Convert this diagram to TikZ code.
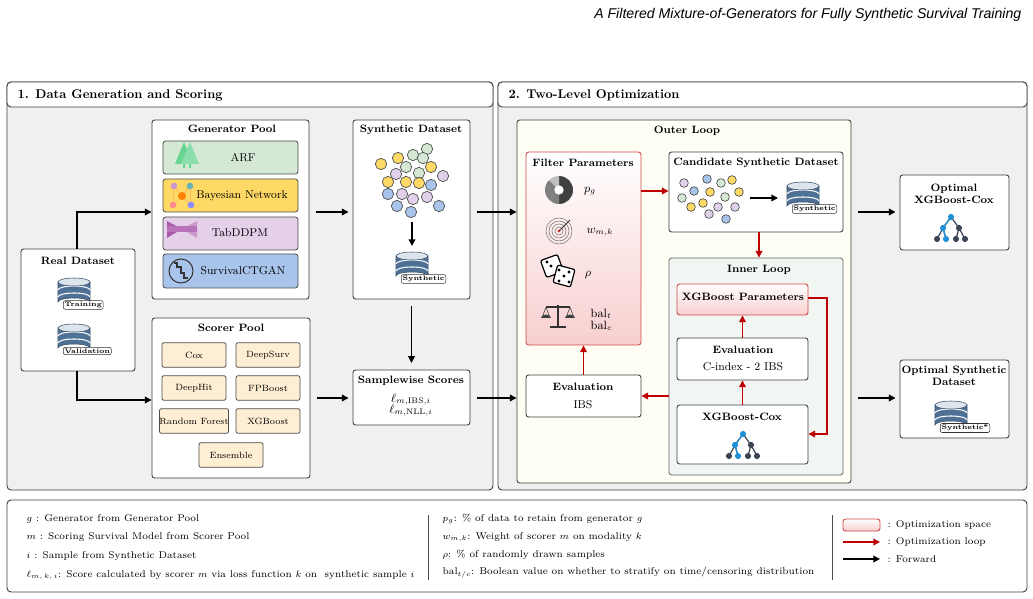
\documentclass[tikz,border=0pt]{standalone}
\usepackage{fontspec}
\newfontfamily\arialfont{Liberation Sans}
\usetikzlibrary{arrows.meta,fit,calc,shapes.geometric}
\definecolor{redc}{HTML}{C00000}
\definecolor{redb}{HTML}{D04848}
\definecolor{redf}{HTML}{F8CFCF}
\definecolor{dbblue}{HTML}{4F7196}
\definecolor{dbtop}{HTML}{DCE4EC}
\definecolor{treeb}{HTML}{1E90D6}
\definecolor{treed}{HTML}{3B4556}
\definecolor{dy}{HTML}{FFD966}
\definecolor{dg}{HTML}{D5E8D4}
\definecolor{dp}{HTML}{E1D0EA}
\definecolor{db}{HTML}{A9C4EB}
\tikzset{
 x=0.75pt,y=-0.75pt,
 box/.style={draw=black!75,fill=white,rounded corners=2pt,line width=0.7pt,inner sep=0pt},
 redbox/.style={draw=redb,rounded corners=2pt,line width=0.7pt,inner sep=0pt,top color=white,bottom color=redf},
 ttl/.style={font=\bfseries\fontsize{8}{9}\selectfont,align=center},
 itm/.style={font=\fontsize{8.5}{10}\selectfont},
 sc/.style={draw=black!70,fill=yellow!20!orange!15!white,rounded corners=1.5pt,line width=0.6pt,minimum width=48pt,minimum height=18.5pt,inner sep=0pt,font=\fontsize{6.8}{8}\selectfont},
 fw/.style={line width=1.1pt,-{Triangle[length=5pt,width=5pt]}},
 lp/.style={line width=1.1pt,draw=redc,-{Triangle[length=5pt,width=5pt]},color=redc},
 dot/.style={circle,draw=black!70,line width=0.5pt,inner sep=0pt,minimum size=#1},
 db/.pic={
  \fill[dbblue,draw=dbblue!70!black,line width=0.4pt] (-16,-10) -- (-16,10) arc[start angle=180,end angle=360,x radius=16,y radius=4] -- (16,-10) -- cycle;
  \draw[white,line width=0.8pt] (-16,-2) arc[start angle=180,end angle=360,x radius=16,y radius=4];
  \draw[white,line width=0.8pt] (-16,5) arc[start angle=180,end angle=360,x radius=16,y radius=4];
  \draw[fill=dbtop,draw=dbblue!70!black,line width=0.4pt] (0,-10) ellipse[x radius=16,y radius=4];
  \node[draw=black!80,fill=white,rounded corners=1.5pt,inner sep=1pt,anchor=west,font=\bfseries\fontsize{5}{6}\selectfont] at (-11,13) {#1};
 },
 tree/.pic={
  \draw[treed,line width=0.9pt] (0,-11)--(-8,0)--(-14,11) (-8,0)--(-5,11) (0,-11)--(8,0)--(5,11) (8,0)--(14,11);
  \draw[treeb,line width=0.9pt] (0,-11)--(-8,0)--(-5,11);
  \fill[treeb] (0,-11) circle (2.3pt) (-8,0) circle (2.3pt) (-5,11) circle (2.3pt);
  \fill[treed] (8,0) circle (2.3pt) (-14,11) circle (2.3pt) (5,11) circle (2.3pt) (14,11) circle (2.3pt);
 }
}
\begin{document}
\begin{tikzpicture}
\useasboundingbox (0,0) rectangle (1033,599);
% title
\node[anchor=east,font=\arialfont\itshape\fontsize{10.6}{12}\selectfont] (title) at (1026,15) {A Filtered Mixture-of-Generators for Fully Synthetic Survival Training};
% panels
\node[fit={(7,82)(493,490)},draw=black!75,fill=black!6,rounded corners=3pt,line width=0.7pt,inner sep=0pt] (p1) {};
\node[fit={(7,82)(493,107)},draw=black!75,fill=white,rounded corners=3pt,line width=0.7pt,inner sep=0pt] (h1) {};
\node[anchor=west,font=\bfseries\fontsize{9.5}{11}\selectfont] (h1t) at (13,95) {1. Data Generation and Scoring};
\node[fit={(498,82)(1027,490)},draw=black!75,fill=black!6,rounded corners=3pt,line width=0.7pt,inner sep=0pt] (p2) {};
\node[fit={(498,82)(1027,107)},draw=black!75,fill=white,rounded corners=3pt,line width=0.7pt,inner sep=0pt] (h2) {};
\node[anchor=west,font=\bfseries\fontsize{9.5}{11}\selectfont] (h2t) at (504,95) {2. Two-Level Optimization};

% Real dataset
\node[box,fit={(21,249)(135,371)}] (real) {};
\node[ttl] (realt) at (78,261) {Real Dataset};
\pic at (74,292) {db=Training};
\pic at (74,338) {db=Validation};

% Generator pool
\node[box,fit={(152,120)(309,299)}] (gen) {};
\node[ttl] (gent) at (232,129) {Generator Pool};
\node[fit={(163,141)(298,174)},draw=black!70,fill=dg,rounded corners=2pt,line width=0.6pt,inner sep=0pt] (arf) {};
\node[itm] at (243,158) {ARF};
\node[fit={(163,179)(298,212)},draw=black!70,fill=dy,rounded corners=2pt,line width=0.6pt,inner sep=0pt] (bn) {};
\node[itm] at (242,196) {Bayesian Network};
\node[fit={(163,217)(298,250)},draw=black!70,fill=dp!85!violet!60,rounded corners=2pt,line width=0.6pt,inner sep=0pt] (tab) {};
\node[itm] at (240,233) {TabDDPM};
\node[fit={(163,254)(298,288)},draw=black!70,fill=db,rounded corners=2pt,line width=0.6pt,inner sep=0pt] (ctg) {};
\node[itm] at (243,271) {SurvivalCTGAN};
% gen icons
\fill[green!45!teal!60] (175,164)--(184,142)--(193,164)--cycle;
\fill[green!45!teal!45] (181,164)--(190,142)--(199,164)--cycle;
\fill[green!45!teal!60] (183,164) rectangle (185,168) (189,164) rectangle (191,168);
\draw[orange!60,line width=0.5pt] (174,186)--(182,196)--(190,186) (173,205)--(182,196)--(191,205) (174,186)--(173,205) (190,186)--(191,205);
\fill[violet!40] (174,186) circle (2.5pt);
\fill[teal!60] (190,186) circle (2.5pt);
\fill[orange] (182,196) circle (3pt);
\fill[red!45] (173,205) circle (2.5pt);
\fill[blue!45] (191,205) circle (2.5pt);
\fill[violet!65] (167,221)--(182,229)--(167,238)--cycle;
\fill[violet!40] (197,221)--(182,229)--(197,238)--cycle;
\fill[violet!55] (167,226) rectangle (197,232);
\draw[black!80,line width=0.8pt] (181,271) circle (12);
\draw[black!80,line width=0.8pt] (174,263)--(177,263)--(177,267)--(181,267)--(181,273)--(184,273)--(184,278)--(188,278);

% Scorer pool
\node[box,fit={(152,318)(310,478)}] (scr) {};
\node[ttl] (scrt) at (231,328) {Scorer Pool};
\node[sc] (cox) at (194,355) {Cox};
\node[sc] (dsv) at (268,355) {DeepSurv};
\node[sc] (dh) at (194,388) {DeepHit};
\node[sc] (fpb) at (268,388) {FPBoost};
\node[sc] (rf) at (194,421) {Random Forest};
\node[sc] (xgb) at (268,421) {XGBoost};
\node[sc] (ens) at (231,455) {Ensemble};

% Synthetic dataset
\node[box,fit={(353,120)(470,299)}] (syn) {};
\node[ttl] (synt) at (411,130) {Synthetic Dataset};
\foreach \x/\y/\c in {381/164/dy,398/158/dy,413/155/dg,427/149/dg,423/158/dg,406/167/dg,396/174/dp,419/173/dg,431/167/dy,443/176/dp,388/182/dy,406/182/dy,419/183/dy,431/185/db,388/194/db,402/194/dp,413/199/dp,427/197/dp,397/206/db,411/212/db,439/206/db}
  \node[dot=8.5pt,fill=\c] at (\x,\y) {};
\coordinate (sa) at (412,222);
\coordinate (sb) at (412,246);
\draw[fw] (sa) -- (sb);
\pic at (412,266) {db=Synthetic};

% Samplewise
\node[box,fit={(353,370)(470,425)}] (sw) {};
\node[ttl] (swt) at (411,381) {Samplewise Scores};
\node[font=\fontsize{9}{10}\selectfont,align=center] (swl) at (411,405) {$\ell_{m,\mathrm{IBS},i}$\\[-2pt]$\ell_{m,\mathrm{NLL},i}$};

% left arrows
\draw[fw] (real.north -| 77,0) |- (gen.west |- 0,212);
\draw[fw] (real.south -| 77,0) |- (scr.west |- 0,400);
\draw[fw] ([xshift=5pt]gen.east |- 0,212) -- ([xshift=-3pt]syn.west |- 0,212);
\draw[fw] ([xshift=5pt]scr.east |- 0,398) -- ([xshift=-3pt]sw.west |- 0,398);
\draw[fw] ([yshift=-5pt]syn.south) -- ([yshift=5pt]sw.north);

% Outer loop
\node[fit={(517,120)(851,483)},draw=black!75,fill=yellow!4,rounded corners=2pt,line width=0.7pt,inner sep=0pt] (outer) {};
\node[ttl] (outt) at (687,131) {Outer Loop};
\draw[fw] ([xshift=5pt]syn.east |- 0,212) -- (outer.west |- 0,212);
\draw[fw] ([xshift=5pt]sw.east |- 0,398) -- (outer.west |- 0,398);

% Filter params
\node[redbox,fit={(526,152)(641,345)}] (fp) {};
\node[ttl] (fpt) at (583,163) {Filter Parameters};
% pie
\begin{scope}[shift={(559,190)},x=1pt,y=1pt]
\fill[black!75] (0,0) -- (90:10.5) arc[start angle=90,end angle=-90,radius=10.5pt] -- cycle;
\fill[black!50] (0,0) -- (-90:10.5) arc[start angle=-90,end angle=-225,radius=10.5pt] -- cycle;
\fill[black!25] (0,0) -- (135:10.5) arc[start angle=135,end angle=90,radius=10.5pt] -- cycle;
\fill[white] (0,0) circle (3.5pt);
\end{scope}
\node[font=\fontsize{9}{10}\selectfont] at (590,191) {$p_g$};
% target
\foreach \r in {13,10,7,4} \draw[black!55,line width=0.4pt] (559,231) circle (\r);
\fill[red!80] (559,231) circle (1.6);
\draw[black!80,line width=0.7pt] (559,231)--(570,220);
\node[font=\fontsize{9}{10}\selectfont] at (600,232) {$w_{m,k}$};
% dice
\draw[black,line width=0.9pt,fill=white,rounded corners=1.5pt,rotate around={20:(552,266)}] (543,257) rectangle (561,275);
\draw[black,line width=0.9pt,fill=white,rounded corners=1.5pt,rotate around={-15:(564,276)}] (555,267) rectangle (573,285);
\foreach \p in {(559,270),(569,272),(564,276),(559,281),(569,282),(547,262),(551,266)} \fill \p circle (1.2pt);
\node[font=\fontsize{9}{10}\selectfont] at (588,275) {$\rho$};
% scales
\draw[black!80,line width=1pt] (558,305)--(558,327) (550,327)--(566,327) (546,307)--(570,307);
\draw[black!70,line width=0.5pt] (546,307)--(542,318) (546,307)--(550,318) (570,307)--(566,318) (570,307)--(574,318);
\fill[black!75] (541,318) arc[start angle=180,end angle=360,x radius=5,y radius=3.5] -- cycle;
\fill[black!75] (565,318) arc[start angle=180,end angle=360,x radius=5,y radius=3.5] -- cycle;
\node[font=\fontsize{9}{10}\selectfont,align=left,anchor=west] at (586,320) {bal$_t$\\[-1pt]bal$_c$};

% Candidate
\node[box,fit={(669,152)(843,232)}] (cand) {};
\node[ttl] (candt) at (756,163) {Candidate Synthetic Dataset};
\foreach \x/\y/\c in {684/183/dp,707/179/db,721/183/dg,732/180/dy,694/191/db,710/192/dy,739/192/dy,682/198/dg,725/197/dg,703/203/dy,691/207/dy,718/207/dp,735/207/dp,709/214/dp,726/219/db}
  \node[dot=6.5pt,fill=\c] at (\x,\y) {};
\coordinate (ca) at (750,198);
\coordinate (cb) at (778,198);
\draw[fw] (ca) -- (cb);
\pic at (803,196) {db=Synthetic};

% Inner loop
\node[fit={(669,258)(843,475)},draw=black!60,fill=green!30!black!5,rounded corners=2pt,line width=0.6pt,inner sep=0pt] (inner) {};
\node[ttl] (innt) at (759,270) {Inner Loop};
\node[redbox,fit={(677,284)(808,315)}] (xp) {};
\node[ttl] at (743,297) {XGBoost Parameters};
\node[box,fit={(677,338)(808,380)}] (ev2) {};
\node[ttl] at (743,350) {Evaluation};
\node[itm] at (743,367) {C-index - 2 IBS};
\node[box,fit={(677,405)(808,464)}] (xc) {};
\node[ttl] at (742,417) {XGBoost-Cox};
\pic at (743,445) {tree};

% Eval IBS
\node[box,fit={(526,375)(641,417)}] (ev1) {};
\node[ttl] at (583,387) {Evaluation};
\node[itm] at (583,405) {IBS};

% red arrows
\draw[lp] (fp.east |- 0,191) -- (cand.west |- 0,191);
\draw[lp] (cand.south -| 759,0) -- (inner.north -| 759,0);
\draw[lp] (xp.east |- 0,298) -- (827,298) |- (xc.east |- 0,434);
\draw[lp] (xc.north) -- (ev2.south);
\draw[lp] (ev2.north) -- (xp.south);
\draw[lp] (inner.west |- 0,396) -- (ev1.east |- 0,396);
\draw[lp] (ev1.north) -- (fp.south -| ev1.north);

% Optimal outputs
\node[box,fit={(900,175)(1009,250)}] (ox) {};
\node[ttl] at (954,194) {Optimal\\XGBoost-Cox};
\pic at (951,228) {tree};
\node[box,fit={(900,360)(1009,438)}] (os) {};
\node[ttl] at (954,376) {Optimal Synthetic\\Dataset};
\pic at (951,415) {db={Synthetic*}};
\draw[fw] ([xshift=5pt]outer.east |- 0,212) -- ([xshift=-3pt]ox.west |- 0,212);
\draw[fw] ([xshift=5pt]outer.east |- 0,398) -- ([xshift=-3pt]os.west |- 0,398);

% Legend
\node[fit={(7,500)(1027,592)},draw=black!75,fill=white,rounded corners=3pt,line width=0.7pt,inner sep=0pt] (leg) {};
\begin{scope}[every node/.style={anchor=west,font=\fontsize{7.4}{8.5}\selectfont}]
\node at (22,519) {$g$ : Generator from Generator Pool};
\node at (22,537) {$m$ : Scoring Survival Model from Scorer Pool};
\node at (22,556) {$i$ : Sample from Synthetic Dataset};
\node at (22,575) {$\ell_{m,\,k,\,i}$: Score calculated by scorer $m$ via loss function $k$ on\ \ synthetic sample $i$};
\node at (438,519) {$p_g$: \% of data to retain from generator $g$};
\node at (438,537) {$w_{m,k}$: Weight of scorer $m$ on modality $k$};
\node at (438,555) {$\rho$: \% of randomly drawn samples};
\node at (438,573) {bal$_{t/c}$: Boolean value on whether to stratify on time/censoring distribution};
\node at (883,525) {: Optimization space};
\node at (883,542) {: Optimization loop};
\node at (883,559) {: Forward};
\end{scope}
\draw[black!70,line width=0.5pt] (428,515)--(428,580) (832,515)--(832,580);
\node[redbox,fit={(843,519)(880,531)}] (legr) {};
\coordinate (l1) at (843,542); \coordinate (l2) at (880,542);
\draw[lp] (l1) -- (l2);
\coordinate (l3) at (843,559); \coordinate (l4) at (880,559);
\draw[fw] (l3) -- (l4);
\end{tikzpicture}
\end{document}
